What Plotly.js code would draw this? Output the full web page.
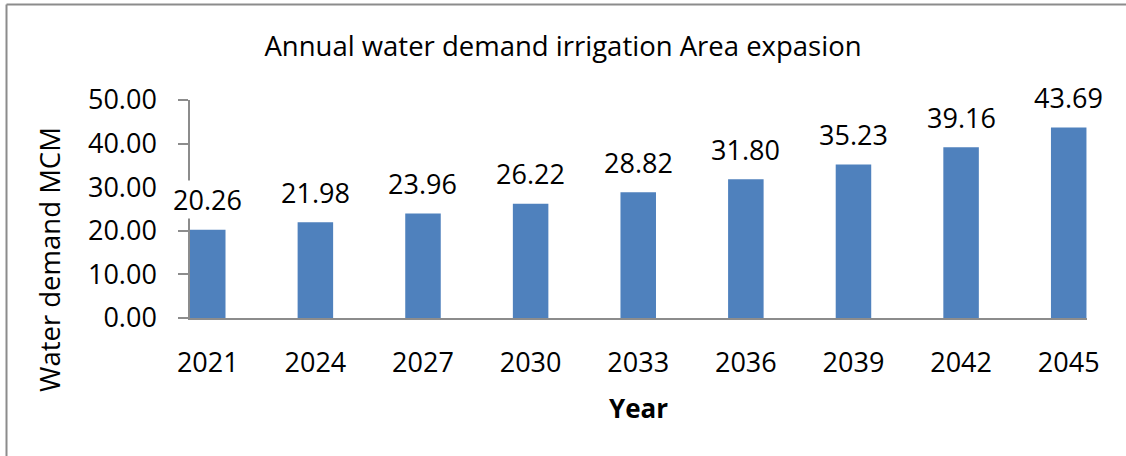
<!DOCTYPE html>
<html>
<head>
<meta charset="utf-8">
<script src="https://cdn.plot.ly/plotly-3.0.1.min.js"></script>
<style>
  html, body { margin: 0; padding: 0; background: #ffffff; }
  #chart { width: 1126px; height: 456px; }
</style>
</head>
<body>
<div id="chart"></div>
<script>
const years = ["2021", "2024", "2027", "2030", "2033", "2036", "2039", "2042", "2045"];
const demand = [20.26, 21.98, 23.96, 26.22, 28.82, 31.80, 35.23, 39.16, 43.69];
const yTicks = [0, 10, 20, 30, 40, 50];
const chartTitle = "Annual water demand irrigation Area expasion";
const xTitle = "Year";
const yTitle = "Water demand MCM";

const FONT = "Open Sans, Noto Sans, sans-serif";

const trace = {
  type: "bar",
  x: years,
  y: demand,
  width: 0.33,
  marker: { color: "#4F81BD", line: { width: 0 } },
  hoverinfo: "x+y"
};

const labelAnnotations = years.map((yr, i) => ({
  x: i,
  y: demand[i],
  xref: "x",
  yref: "y",
  text: demand[i].toFixed(2),
  showarrow: false,
  xanchor: "center",
  yanchor: "middle",
  yshift: 30,
  bgcolor: "#ffffff",
  borderpad: 0,
  font: { family: FONT, size: 27, color: "#000000" }
}));

const layout = {
  width: 1126,
  height: 456,
  margin: { l: 190, r: 39, t: 100, b: 138 },
  paper_bgcolor: "#ffffff",
  plot_bgcolor: "#ffffff",
  showlegend: false,
  title: {
    text: chartTitle,
    xref: "container",
    yref: "container",
    x: 563 / 1126,
    xanchor: "center",
    y: 1 - 46 / 456,
    yanchor: "middle",
    font: { family: FONT, size: 27.5, color: "#000000" }
  },
  xaxis: {
    type: "category",
    range: [-0.165, 8.17],
    showline: true,
    linecolor: "#8c8c8c",
    linewidth: 2,
    ticks: "",
    showgrid: false,
    zeroline: false,
    ticklabelstandoff: 20,
    tickfont: { family: FONT, size: 27, color: "#000000" },
    title: {
      text: "<b>" + xTitle + "</b>",
      standoff: 20,
      font: { family: FONT, size: 26, color: "#000000" }
    }
  },
  yaxis: {
    range: [0, 50],
    tickvals: yTicks,
    tickformat: ".2f",
    showline: true,
    linecolor: "#8c8c8c",
    linewidth: 1.5,
    ticks: "outside",
    ticklen: 10,
    tickcolor: "#8c8c8c",
    tickwidth: 1.5,
    showgrid: false,
    zeroline: false,
    ticklabelstandoff: 16,
    tickfont: { family: FONT, size: 27, color: "#000000" }
  },
  annotations: labelAnnotations.concat([
    {
      text: yTitle,
      xref: "paper",
      yref: "paper",
      x: (49 - 190) / 897,
      y: (318 - 260) / 218,
      xanchor: "center",
      yanchor: "middle",
      textangle: -90,
      showarrow: false,
      font: { family: FONT, size: 27.5, color: "#000000" }
    }
  ]),
  shapes: [
    {
      type: "line", xref: "paper", yref: "paper",
      x0: (6.5 - 190) / 897, x1: (1130 - 190) / 897,
      y0: (318 - 4.5) / 218, y1: (318 - 4.5) / 218,
      line: { color: "#8c8c8c", width: 2 }
    },
    {
      type: "line", xref: "paper", yref: "paper",
      x0: (6.5 - 190) / 897, x1: (6.5 - 190) / 897,
      y0: (318 - 4.5) / 218, y1: (318 - 460) / 218,
      line: { color: "#8c8c8c", width: 2 }
    }
  ]
};

Plotly.newPlot("chart", [trace], layout, { displayModeBar: false, responsive: false });
</script>
</body>
</html>
